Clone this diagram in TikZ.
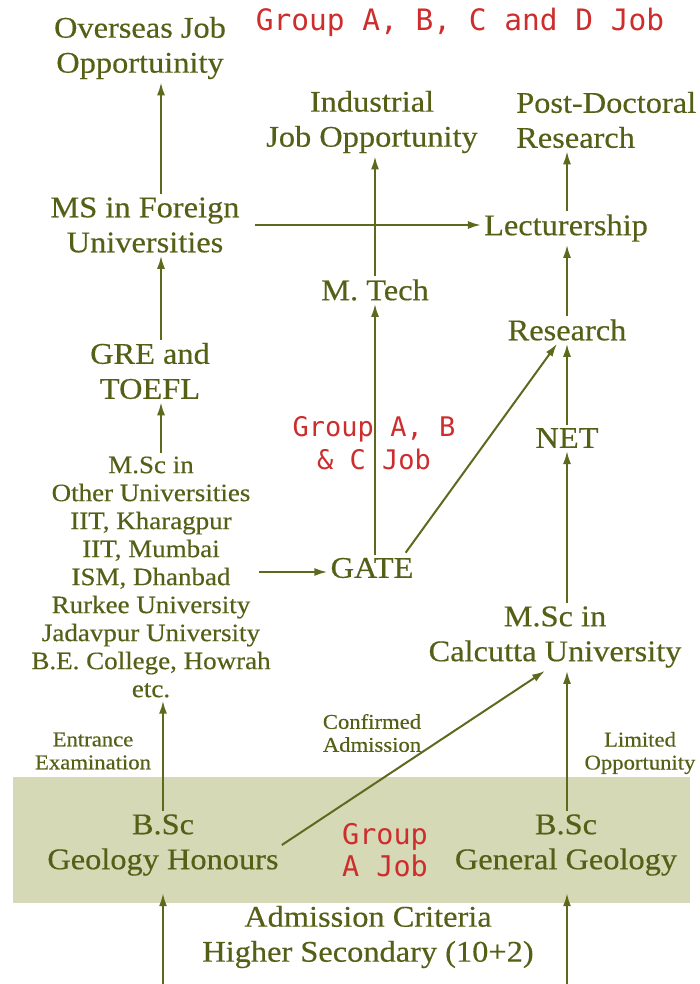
\documentclass[tikz,border=0pt]{standalone}
\usepackage{fontspec}
\setmainfont{Liberation Serif}[FakeStretch=1.08,FakeBold=0.4]
\newfontfamily\monofont{DejaVu Sans Mono}
\usetikzlibrary{arrows.meta,calc}
\definecolor{olivetext}{RGB}{85,95,22}
\definecolor{olivearrow}{RGB}{95,105,30}
\definecolor{bandfill}{RGB}{214,217,182}
\definecolor{jobred}{RGB}{205,45,45}
\begin{document}
\begin{tikzpicture}[x=1pt,y=-1pt,
  lbl/.style={text=olivetext, align=center, font=\fontsize{30}{35}\selectfont, inner sep=3pt},
  small/.style={text=olivetext, align=center, font=\fontsize{21}{23}\selectfont, inner sep=1pt},
  list/.style={text=olivetext, align=center, font=\fontsize{25}{28}\selectfont, inner sep=3pt},
  job/.style={text=jobred, align=center, font=\monofont\fontsize{27}{33}\selectfont},
  arr/.style={draw=olivearrow, line width=2pt, -{Latex[length=13pt,width=8pt]}},
  ]
\useasboundingbox (0,0) rectangle (699,984);
\node[fill=bandfill, minimum width=677pt, minimum height=126pt, inner sep=0] (band) at (351.5,840) {};
\node[lbl] (over) at (140,48) {Overseas Job\\Opportuinity};
\node[job, font=\monofont\fontsize{29.5}{34}\selectfont] (jobad) at (460,22) {Group A, B, C and D Job};
\node[lbl] (ind) at (372,122) {Industrial\\Job Opportunity};
\node[lbl, align=left, anchor=west] (pdr) at (513,120) {Post-Doctoral\\Research};
\node[lbl] (msf) at (145,225) {MS in Foreign\\Universities};
\node[lbl] (lec) at (566,228) {Lecturership};
\node[lbl] (mtech) at (375,290) {M. Tech};
\node[lbl] (res) at (567,330) {Research};
\node[lbl] (gre) at (150,371) {GRE and\\TOEFL};
\node[lbl] (net) at (567,438) {NET};
\node[job] (jobabc) at (374,443) {Group A, B\\\& C Job};
\node[list] (mscl) at (151,577) {M.Sc in\\Other Universities\\IIT, Kharagpur\\IIT, Mumbai\\ISM, Dhanbad\\Rurkee University\\Jadavpur University\\B.E. College, Howrah\\etc.};
\node[lbl] (gate) at (372,568) {GATE};
\node[lbl] (msc) at (555,637) {M.Sc in\\Calcutta University};
\node[small] (entr) at (93,751) {Entrance\\Examination};
\node[small] (conf) at (372,733) {Confirmed\\Admission};
\node[small] (lim) at (640,753) {Limited\\Opportunity};
\node[lbl] (bsh) at (163,845) {B.Sc\\Geology Honours};
\node[job, font=\monofont\fontsize{28.5}{32}\selectfont] (joba) at (385,850) {Group\\A Job};
\node[lbl] (bsg) at (566,845) {B.Sc\\General Geology};
\node[lbl] (adm) at (368,937) {Admission Criteria\\Higher Secondary (10+2)};
\coordinate (lc) at (161,0);
\coordinate (b1) at (163,984);
\coordinate (b2) at (567,984);

\draw[arr] (msf.north -| lc) -- (over.south -| lc);
\draw[arr] (gre.north -| lc) -- (msf.south -| lc);
\draw[arr] (mscl.north -| lc) -- (gre.south -| lc);
\draw[arr] (bsh.north -| b1) -- (mscl.south -| b1);
\draw[arr] (b1) -- ($(b1 |- band.south)+(0,-10)$);
\draw[arr] (b2) -- ($(b2 |- band.south)+(0,-10)$);
\draw[arr] (bsg.north -| b2) -- (msc.south -| b2);
\draw[arr] (bsh.east) -- ($(msc.south)+(-10,0)$);
\draw[arr] (msc.north -| net) -- (net.south);
\draw[arr] (net.north) -- (res.south);
\draw[arr] (res.north) -- (lec.south -| res);
\draw[arr] (lec.north -| res) -- (pdr.south -| res);
\draw[arr] (gate.north -| mtech) -- (mtech.south);
\draw[arr] (mtech.north) -- (ind.south -| mtech);
\draw[arr] ($(gate.north east)+(-11,-2)$) -- ($(res.south)+(-10,0)$);
\draw[arr] ($(msf.east)+(12,0)$) -- (msf.east -| lec.west);
\draw[arr] ($(mscl.east |- gate)+(-15,4)$) -- ($(gate.west)+(0,4)$);
\end{tikzpicture}
\end{document}
